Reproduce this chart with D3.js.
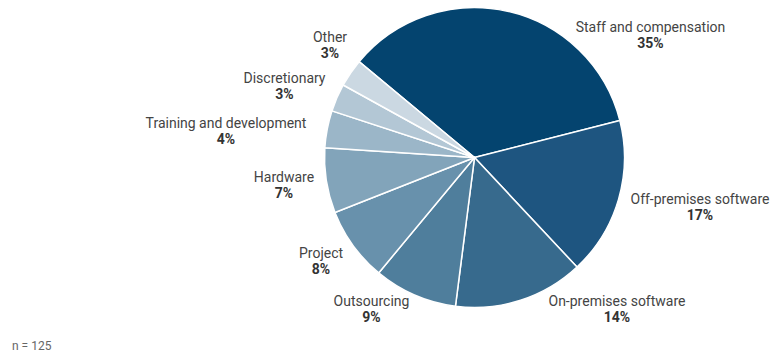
<!DOCTYPE html>
<html>
<head>
<meta charset="utf-8">
<script src="https://cdn.jsdelivr.net/npm/d3@7"></script>
<style>
  html, body { margin: 0; padding: 0; background: #fff; }
  svg { display: block; }
  text { font-family: Roboto, "Noto Sans", sans-serif; }
</style>
</head>
<body>
<svg id="chart" width="772" height="356"></svg>
<script>
// ---- data ----
const categories = [
  "Staff and compensation",
  "Off-premises software",
  "On-premises software",
  "Outsourcing",
  "Project",
  "Hardware",
  "Training and development",
  "Discretionary",
  "Other"
];
const values = [35, 17, 14, 9, 8, 7, 4, 3, 3];
const sampleNote = "n = 125";

// ---- styles / layout (not data) ----
const colors = ["#04446F", "#1E5580", "#376A8D", "#4F7E9C", "#6891AC", "#82A4BA", "#9BB6C8", "#B3C7D5", "#CBD8E2"];
// label anchor offsets relative to pie centre (name baseline)
const labelOffsets = [
  [176, -125.5], [225.5, 46.5], [142.5, 148.5], [-103, 148.5], [-153.5, 100.5],
  [-190.5, 24.5], [-248.5, -29.5], [-190, -74.5], [-144.5, -115.5]
];

const svg = d3.select("#chart");
const cx = 474.5, cy = 157.5, radius = 150;

const data = categories.map((c, i) => ({ name: c, value: values[i], i }));

const pie = d3.pie()
  .value(d => d.value)
  .sort(null)
  .startAngle(-50.3 * Math.PI / 180)
  .endAngle(-50.3 * Math.PI / 180 + 2 * Math.PI);

const arc = d3.arc().innerRadius(0).outerRadius(radius);

const g = svg.append("g").attr("transform", `translate(${cx},${cy})`);

g.selectAll("path.slice")
  .data(pie(data))
  .join("path")
  .attr("class", "slice")
  .attr("d", arc)
  .attr("fill", d => colors[d.data.i])
  .attr("stroke", "#fff")
  .attr("stroke-width", 1.5)
  .attr("stroke-linejoin", "round");

const fmt = d => d3.format(".0f")(d) + "%";

const labels = g.selectAll("g.label")
  .data(pie(data))
  .join("g")
  .attr("class", "label")
  .attr("transform", d => `translate(${labelOffsets[d.data.i][0]},${labelOffsets[d.data.i][1]})`);

labels.append("text")
  .attr("text-anchor", "middle")
  .attr("font-size", 14)
  .attr("fill", "#444")
  .text(d => d.data.name);

labels.append("text")
  .attr("text-anchor", "middle")
  .attr("y", 16)
  .attr("font-size", 14)
  .attr("font-weight", "bold")
  .attr("fill", "#333")
  .text(d => fmt(d.data.value));

svg.append("text")
  .attr("x", 12)
  .attr("y", 350)
  .attr("font-size", 12)
  .attr("fill", "#666")
  .text(sampleNote);
</script>
</body>
</html>
